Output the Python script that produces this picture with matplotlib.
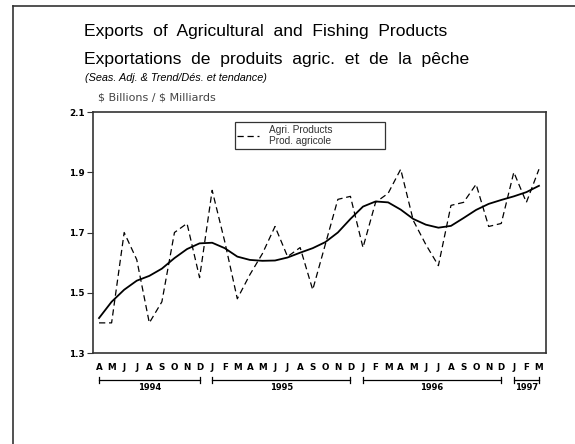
import matplotlib.pyplot as plt
from matplotlib.lines import Line2D

plt.rcParams['font.family'] = ['Liberation Sans', 'DejaVu Sans']

# monthly data, April 1994 - March 1997
months = ["A", "M", "J", "J", "A", "S", "O", "N", "D",
          "J", "F", "M", "A", "M", "J", "J", "A", "S", "O", "N", "D",
          "J", "F", "M", "A", "M", "J", "J", "A", "S", "O", "N", "D",
          "J", "F", "M"]

seas_adj = [1.40, 1.40, 1.70, 1.61, 1.40, 1.47, 1.70, 1.73, 1.55,
            1.84, 1.67, 1.48, 1.56, 1.63, 1.72, 1.62, 1.65, 1.51, 1.66, 1.81, 1.82,
            1.65, 1.80, 1.83, 1.91, 1.74, 1.66, 1.59, 1.79, 1.80, 1.86, 1.72, 1.73,
            1.90, 1.80, 1.91]

trend = [1.416, 1.47, 1.51, 1.54, 1.556, 1.58, 1.615, 1.645, 1.664,
         1.666, 1.648, 1.62, 1.609, 1.606, 1.607, 1.617, 1.633, 1.648, 1.668, 1.70, 1.745,
         1.786, 1.803, 1.80, 1.776, 1.745, 1.726, 1.716, 1.722, 1.748, 1.775, 1.795, 1.808,
         1.82, 1.834, 1.855]

years = ["1994", "1995", "1996", "1997"]
year_start = [0, 9, 21, 33]
year_end = [8, 20, 32, 35]

y_ticks = [1.3, 1.5, 1.7, 1.9, 2.1]

W, H = 575, 444
fig = plt.figure(figsize=(W / 100, H / 100), dpi=100)

# outer frame (runs off the right / bottom of the picture)
fig.add_artist(Line2D([13 / W, 13 / W], [0, 1 - 6 / H], color='#333333', lw=1.2))
fig.add_artist(Line2D([13 / W, 1], [1 - 6 / H, 1 - 6 / H], color='#333333', lw=1.2))

# titles
fig.text(84 / W, 1 - 36 / H, "Exports  of  Agricultural  and  Fishing  Products",
         fontsize=12.6, va='baseline', ha='left')
fig.text(84 / W, 1 - 64 / H, "Exportations  de  produits  agric.  et  de  la  pêche",
         fontsize=12.6, va='baseline', ha='left')
fig.text(85 / W, 1 - 81 / H, "(Seas. Adj. & Trend/Dés. et tendance)",
         fontsize=7.8, style='italic', va='baseline', ha='left')
fig.text(98 / W, 1 - 101 / H, r"\$ Billions / \$ Milliards",
         fontsize=8.0, color='#444444', va='baseline', ha='left',
         family='DejaVu Sans')

ax = fig.add_axes([93 / W, 1 - 353 / H, (546 - 93) / W, (353 - 112) / H])
x = list(range(len(months)))

ax.plot(x, seas_adj, color='black', lw=0.9, linestyle=(0, (5, 3)),
        label="Agri. Products\nProd. agricole")
ax.plot(x, trend, color='black', lw=1.3)

ax.set_xlim(-0.48, 35.56)
ax.set_ylim(1.3, 2.1)
ax.set_yticks(y_ticks)
ax.set_yticklabels(["{:.1f}".format(v) for v in y_ticks], fontsize=6.3,
                   fontweight='bold', family='DejaVu Sans')
ax.tick_params(axis='y', length=4, width=0.8, pad=2, color='#333333')
ax.set_xticks([])
for s in ax.spines.values():
    s.set_linewidth(1.2)
    s.set_color('#333333')

# month letters under the axis
for i, m in enumerate(months):
    ax.text(i, -0.06, m, transform=ax.get_xaxis_transform(), ha='center',
            va='center', fontsize=6.3, fontweight='bold', family='DejaVu Sans')

# year brackets
for yr, a, b in zip(years, year_start, year_end):
    tr = ax.get_xaxis_transform()
    ax.plot([a, b], [-0.11, -0.11], transform=tr, color='black', lw=0.9,
            clip_on=False)
    ax.plot([a, a], [-0.10, -0.125], transform=tr, color='black', lw=0.9,
            clip_on=False)
    ax.plot([b, b], [-0.10, -0.125], transform=tr, color='black', lw=0.9,
            clip_on=False)
    ax.text((a + b) / 2, -0.145, yr, transform=tr, ha='center', va='center',
            fontsize=6.0, fontweight='bold', family='DejaVu Sans')

leg = ax.legend(loc='upper left', bbox_to_anchor=(0.302, 0.863, 0.354, 0.116),
                mode='expand', fancybox=False, frameon=True, fontsize=7.3,
                handlelength=2.1, handletextpad=1.0, borderpad=0.25,
                labelcolor='#333333')
leg.get_frame().set_edgecolor('black')
leg.get_frame().set_linewidth(0.9)

plt.savefig("out.png", dpi=100)
